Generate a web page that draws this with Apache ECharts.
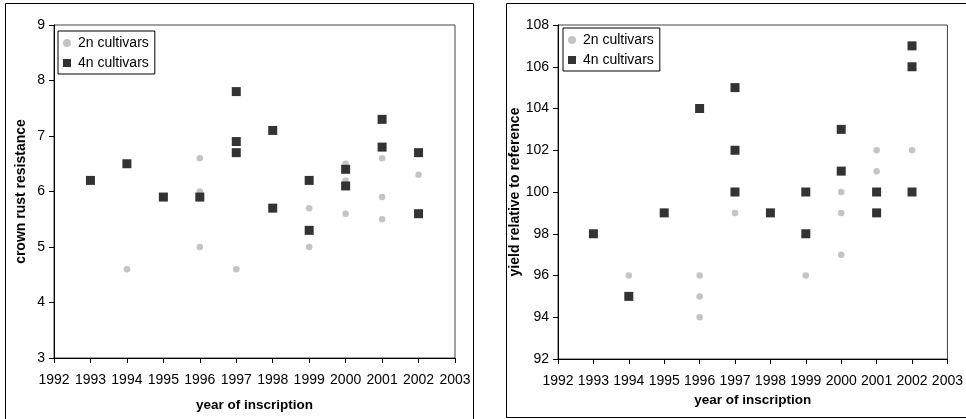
<!DOCTYPE html>
<html>
<head>
<meta charset="utf-8">
<script src="https://cdn.jsdelivr.net/npm/echarts@6/dist/echarts.min.js"></script>
<style>
  html, body { margin: 0; padding: 0; background: #fff; }
  #chart { width: 966px; height: 419px; }
</style>
</head>
<body>
<div id="chart"></div>
<script>
// Crown rust resistance by year of inscription
const rust2nYears  = [1994, 1996, 1996, 1996, 1997, 1999, 1999, 2000, 2000, 2000, 2001, 2001, 2001, 2002];
const rust2nValues = [4.6,  6.6,  6.0,  5.0,  4.6,  5.7,  5.0,  6.5,  6.2,  5.6,  6.6,  5.9,  5.5,  6.3];
const rust4nYears  = [1993, 1994, 1995, 1996, 1997, 1997, 1997, 1998, 1998, 1999, 1999, 2000, 2000, 2001, 2001, 2002, 2002];
const rust4nValues = [6.2,  6.5,  5.9,  5.9,  7.8,  6.9,  6.7,  7.1,  5.7,  6.2,  5.3,  6.4,  6.1,  7.3,  6.8,  6.7,  5.6];

// Yield relative to reference by year of inscription
const yield2nYears  = [1994, 1996, 1996, 1996, 1997, 1999, 2000, 2000, 2000, 2001, 2001, 2002];
const yield2nValues = [96,   96,   95,   94,   99,   96,   100,  99,   97,   102,  101,  102];
const yield4nYears  = [1993, 1994, 1995, 1996, 1997, 1997, 1997, 1998, 1999, 1999, 2000, 2000, 2001, 2001, 2002, 2002, 2002];
const yield4nValues = [98,   95,   99,   104,  105,  102,  100,  99,   100,  98,   103,  101,  100,  99,   107,  106,  100];

const seriesNames = ['2n cultivars', '4n cultivars'];
const xTitle = 'year of inscription';
const yTitles = ['crown rust resistance', 'yield relative to reference'];

const pairs = (xs, ys) => xs.map((x, i) => [x, ys[i]]);

const FONT = '"Liberation Sans", Arial, sans-serif';
const C2N = '#c4c4c4';
const C4N = '#333333';

function xAxisCfg(gridIndex, nameGap) {
  return {
    gridIndex, type: 'value', min: 1992, max: 2003, interval: 1,
    name: xTitle, nameLocation: 'middle', nameGap,
    nameTextStyle: { fontFamily: FONT, fontSize: 13.5, fontWeight: 'bold', color: '#000' },
    axisLine: { show: true, lineStyle: { color: '#000', width: 1 } },
    axisTick: { show: true, inside: false, length: 5, lineStyle: { color: '#000' } },
    axisLabel: { fontFamily: FONT, fontSize: 14, color: '#000', margin: 15, formatter: v => String(v) },
    splitLine: { show: false }
  };
}
function yAxisCfg(gridIndex, min, max, interval, name, nameGap) {
  return {
    gridIndex, type: 'value', min, max, interval,
    name, nameLocation: 'middle', nameGap, nameRotate: 90,
    nameTextStyle: { fontFamily: FONT, fontSize: 14, fontWeight: 'bold', color: '#000' },
    axisLine: { show: true, lineStyle: { color: '#000', width: 1 } },
    axisTick: { show: true, inside: false, length: 5, lineStyle: { color: '#000' } },
    axisLabel: { fontFamily: FONT, fontSize: 14, color: '#000', margin: 9 },
    splitLine: { show: false }
  };
}
function legendCfg(left, top) {
  return {
    left, top, orient: 'vertical',
    data: [
      { name: seriesNames[0], icon: 'circle' },
      { name: seriesNames[1], icon: 'rect' }
    ],
    itemWidth: 8, itemHeight: 8, itemGap: 6,
    padding: [5, 6, 4, 5],
    borderColor: '#000', borderWidth: 1, borderRadius: 0, backgroundColor: '#fff',
    textStyle: { fontFamily: FONT, fontSize: 14, color: '#000', padding: [0, 0, 0, 2] },
    selectedMode: false
  };
}
function scatter(name, data, xi, symbol, size, color) {
  return {
    name, type: 'scatter', xAxisIndex: xi, yAxisIndex: xi,
    data, symbol, symbolSize: size,
    itemStyle: { color, opacity: 1 },
    emphasis: { disabled: true }, z: symbol === 'rect' ? 3 : 2
  };
}

const chart = echarts.init(document.getElementById('chart'), null, { renderer: 'canvas' });
chart.setOption({
  animation: false,
  backgroundColor: '#fff',
  graphic: [
    { type: 'rect', shape: { x: 5.5, y: 3.5, width: 468, height: 420 }, style: { fill: null, stroke: '#000', lineWidth: 1 }, silent: true, z: -10 },
    { type: 'rect', shape: { x: 506.5, y: 3.5, width: 470, height: 414 }, style: { fill: null, stroke: '#000', lineWidth: 1 }, silent: true, z: -10 }
  ],
  grid: [
    { left: 54, top: 25, width: 401, height: 333, show: true, borderColor: '#444', borderWidth: 1, backgroundColor: '#fff', containLabel: false },
    { left: 558, top: 25, width: 396, height: 334, show: true, borderColor: '#444', borderWidth: 1, backgroundColor: '#fff', containLabel: false }
  ],
  xAxis: [xAxisCfg(0, 40), xAxisCfg(1, 25)],
  yAxis: [
    yAxisCfg(0, 3, 9, 1, yTitles[0], 26),
    yAxisCfg(1, 92, 108, 2, yTitles[1], 32)
  ],
  legend: [legendCfg(58, 31), legendCfg(563, 28)],
  series: [
    scatter(seriesNames[0], pairs(rust2nYears, rust2nValues), 0, 'circle', 6.5, C2N),
    scatter(seriesNames[1], pairs(rust4nYears, rust4nValues), 0, 'rect', 9, C4N),
    scatter(seriesNames[0], pairs(yield2nYears, yield2nValues), 1, 'circle', 6.5, C2N),
    scatter(seriesNames[1], pairs(yield4nYears, yield4nValues), 1, 'rect', 9, C4N)
  ]
});
</script>
</body>
</html>
